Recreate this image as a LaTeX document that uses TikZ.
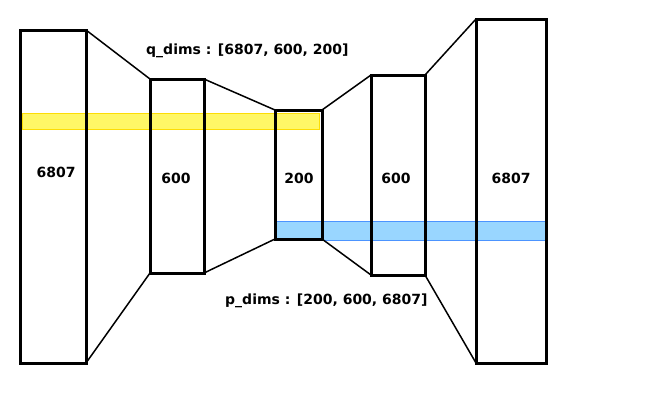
\documentclass[tikz,border=0pt]{standalone}
\usepackage{fontspec}
\setmainfont{DejaVu Sans}
\begin{document}
\begin{tikzpicture}[x=1pt,y=-1pt,
  layer/.style={draw=black,line width=3pt},
  conn/.style={draw=black,line width=1.5pt},
  lbl/.style={font=\fontsize{14}{16}\selectfont\bfseries,inner sep=0pt},
  ybar/.style={fill=yellow!60!white,draw=yellow!80!orange,line width=1pt},
  bbar/.style={fill=blue!40!cyan!40!white,draw=blue!60!cyan!70!white,line width=1pt}]
\useasboundingbox (0,0) rectangle (653,416);
% bars
\draw[ybar] (22,113) rectangle (319,129);
\draw[bbar] (274,221) rectangle (545,240);
% boxes as coordinates
\coordinate (a1) at (20,30); \coordinate (a2) at (86,30); \coordinate (a3) at (86,363); \coordinate (a4) at (20,363);
\coordinate (b1) at (150,79); \coordinate (b2) at (204,79); \coordinate (b3) at (204,273); \coordinate (b4) at (150,273);
\coordinate (c1) at (275,110); \coordinate (c2) at (322,110); \coordinate (c3) at (322,239); \coordinate (c4) at (275,239);
\coordinate (d1) at (371,75); \coordinate (d2) at (425,75); \coordinate (d3) at (425,275); \coordinate (d4) at (371,275);
\coordinate (e1) at (476,19); \coordinate (e2) at (546,19); \coordinate (e3) at (546,363); \coordinate (e4) at (476,363);
\draw[layer] (a1) rectangle (a3);
\draw[layer] (b1) rectangle (b3);
\draw[layer] (c1) rectangle (c3);
\draw[layer] (d1) rectangle (d3);
\draw[layer] (e1) rectangle (e3);
% connectors
\draw[conn] (a2) -- (b1); \draw[conn] (a3) -- (b4);
\draw[conn] (b2) -- (c1); \draw[conn] (b3) -- (c4);
\draw[conn] (c2) -- (d1); \draw[conn] (c3) -- (d4);
\draw[conn] (d2) -- (e1); \draw[conn] (d3) -- (e4);
% labels
\node[lbl] (la) at (56,172) {6807};
\node[lbl] (lb) at (176,178) {600};
\node[lbl] (lc) at (299,178) {200};
\node[lbl] (ld) at (396,178) {600};
\node[lbl] (le) at (511,178) {6807};
\node[lbl,anchor=west] (q) at (146,51) {q\_dims : [6807, 600, 200]};
\node[lbl,anchor=west] (p) at (225,301) {p\_dims : [200, 600, 6807]};
\end{tikzpicture}
\end{document}
